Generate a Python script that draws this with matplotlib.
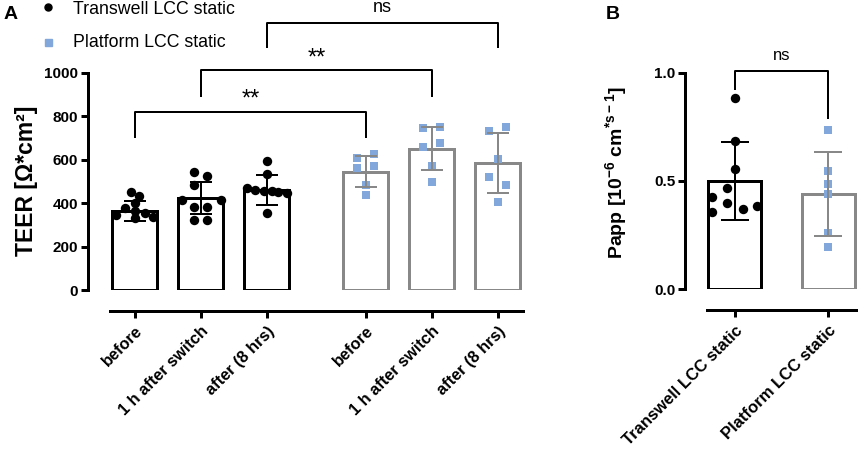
import matplotlib
matplotlib.use("Agg")
import matplotlib.pyplot as plt
from matplotlib.lines import Line2D
import numpy as np

plt.rcParams['font.family'] = ['Liberation Sans', 'DejaVu Sans']
plt.rcParams['mathtext.fontset'] = 'custom'
plt.rcParams['mathtext.rm'] = 'Liberation Sans'
plt.rcParams['mathtext.bf'] = 'Liberation Sans:bold'

# ---- data ----
groups = ['Transwell LCC static', 'Platform LCC static']
timepoints = ['before', '1 h after switch', 'after (8 hrs)']

teer_tw_mean = [364, 424, 461]
teer_tw_sd = [48, 75, 67]
teer_pf_mean = [546, 651, 585]
teer_pf_sd = [70, 99, 140]

teer_tw_points = [
    [452, 435, 400, 380, 365, 355, 345, 335, 330],
    [545, 525, 484, 415, 415, 384, 384, 323, 323],
    [596, 534, 470, 462, 458, 454, 450, 446, 356],
]
teer_pf_points = [
    [625, 610, 571, 561, 484, 438],
    [753, 748, 679, 660, 571, 499],
    [750, 734, 605, 522, 482, 407],
]

papp_mean = [0.50, 0.44]
papp_sd = [0.18, 0.195]
papp_tw_points = [0.884, 0.686, 0.554, 0.466, 0.427, 0.397, 0.357, 0.369, 0.384]
papp_pf_points = [0.735, 0.546, 0.485, 0.438, 0.258, 0.197]

# ---- style / layout ----
blue = '#82A7DB'
grey = '#888888'
px = 72 / 100.0  # points per pixel

jit_tw = [
    [-0.06, 0.06, 0.0, -0.15, 0.0, 0.15, -0.28, 0.28, 0.0],
    [-0.10, 0.10, -0.10, -0.29, 0.31, -0.10, 0.10, -0.10, 0.10],
    [0.0, 0.0, -0.30, -0.18, -0.05, 0.08, 0.17, 0.30, 0.0],
]
jit_pf_list = [
    [0.13, -0.13, 0.13, -0.13, 0.0, 0.0],
    [0.13, -0.13, 0.13, -0.13, 0.0, 0.0],
    [0.13, -0.13, 0.0, -0.13, 0.13, 0.0],
]
jit_b = [0.0, 0.0, 0.0, -0.085, -0.24, -0.085, -0.24, 0.085, 0.235]

fig = plt.figure(figsize=(8.58, 4.49), dpi=100)


def style_axis(ax, xbounds, ybounds):
    for s in ['top', 'right']:
        ax.spines[s].set_visible(False)
    ax.spines['left'].set_linewidth(3 * px)
    ax.spines['bottom'].set_linewidth(3 * px)
    ax.spines['left'].set_bounds(*ybounds)
    ax.spines['bottom'].set_bounds(*xbounds)
    ax.spines['bottom'].set_position(('outward', 21 * px))
    ax.tick_params(axis='both', width=3 * px, length=7 * px)
    ax.tick_params(axis='y', pad=2, labelsize=11)
    ax.tick_params(axis='x', pad=4)


def set_xlabels(ax, labels, size):
    ax.set_xticklabels(labels)
    for lab in ax.get_xticklabels():
        lab.set_rotation(45)
        lab.set_ha('right')
        lab.set_rotation_mode('anchor')
        lab.set_fontweight('bold')
        lab.set_fontsize(size)
    for lab in ax.get_yticklabels():
        lab.set_fontweight('bold')


def bracket(ax, x1, x2, y1, y2, top, text, ty, size):
    ax.plot([x1, x1, x2, x2], [y1, top, top, y2], color='black',
            lw=2 * px, clip_on=False, zorder=5)
    ax.text((x1 + x2) / 2, ty, text, ha='center', va='center',
            fontsize=size, clip_on=False)


# ---------------- panel A ----------------
axA = fig.add_axes([88 / 858, 1 - 290 / 449, (523 - 88) / 858, (290 - 73) / 449])
style_axis(axA, (-0.37, 5.88), (0, 1000))
xa_tw = np.arange(3)
xa_pf = np.arange(3) + 3.5
w = 0.68

axA.bar(xa_tw, teer_tw_mean, width=w, facecolor='white', edgecolor='black',
        linewidth=3 * px, zorder=2)
axA.bar(xa_pf, teer_pf_mean, width=w, facecolor='white', edgecolor=grey,
        linewidth=3 * px, zorder=2)
for i in range(3):
    axA.scatter(xa_tw[i] + np.array(jit_tw[i]), teer_tw_points[i], s=46,
                color='black', marker='o', zorder=3, linewidths=0)
    axA.scatter(xa_pf[i] + np.array(jit_pf_list[i]), teer_pf_points[i], s=40,
                color=blue, marker='s', zorder=3, linewidths=0)
axA.errorbar(xa_tw, teer_tw_mean, yerr=teer_tw_sd, fmt='none', ecolor='black',
             elinewidth=2 * px, capsize=11.5 * px, capthick=2 * px, zorder=4)
axA.errorbar(xa_pf, teer_pf_mean, yerr=teer_pf_sd, fmt='none', ecolor=grey,
             elinewidth=2 * px, capsize=11.5 * px, capthick=2 * px, zorder=4)

axA.set_xlim(-0.71, 5.88)
axA.set_ylim(0, 1000)
axA.set_yticks([0, 200, 400, 600, 800, 1000])
axA.set_xticks(list(xa_tw) + list(xa_pf))
set_xlabels(axA, timepoints + timepoints, 11.8)

bracket(axA, 0, 3.5, 705, 705, 820, '**', 880, 17)
bracket(axA, 1, 4.5, 895, 895, 1014, '**', 1066, 17)
bracket(axA, 2, 5.5, 1121, 1121, 1229, 'ns', 1302, 13)

fig.text(27 / 858, 1 - 181 / 449, 'TEER [Ω*cm²]', rotation=90, ha='center',
         va='center', fontsize=16.5, fontweight='bold')

# ---------------- panel B ----------------
axB = fig.add_axes([685 / 858, 1 - 289.3 / 449, (858 - 685) / 858, (289.3 - 72.7) / 449])
style_axis(axB, (-0.296, 1.314), (0, 1.0))
xb = np.arange(2)
wb = 0.56
axB.bar(xb[0], papp_mean[0], width=wb, facecolor='white', edgecolor='black',
        linewidth=3 * px, zorder=2)
axB.bar(xb[1], papp_mean[1], width=wb, facecolor='white', edgecolor=grey,
        linewidth=3 * px, zorder=2)
axB.scatter(xb[0] + np.array(jit_b), papp_tw_points, s=46, color='black',
            marker='o', zorder=3, linewidths=0)
axB.scatter(np.full(len(papp_pf_points), xb[1]), papp_pf_points, s=40,
            color=blue, marker='s', zorder=3, linewidths=0)
axB.errorbar(xb[0], papp_mean[0], yerr=papp_sd[0], fmt='none', ecolor='black',
             elinewidth=2 * px, capsize=14 * px, capthick=2 * px, zorder=4)
axB.errorbar(xb[1], papp_mean[1], yerr=papp_sd[1], fmt='none', ecolor=grey,
             elinewidth=2 * px, capsize=14 * px, capthick=2 * px, zorder=4)
axB.set_xlim(-0.527, 1.314)
axB.set_ylim(0, 1.0)
axB.set_yticks([0.0, 0.5, 1.0])
axB.set_yticklabels(['0.0', '0.5', '1.0'])
axB.set_xticks(xb)
set_xlabels(axB, groups, 12)
bracket(axB, 0, 1, 0.923, 0.789, 1.009, 'ns', 1.081, 12)

fig.text(617 / 858, 1 - 172 / 449,
         r'Papp [10$^{\mathbf{-6}}$ cm$^{\mathbf{*s-1}}$]', rotation=90,
         ha='center', va='center', fontsize=14, fontweight='bold')

# ---------------- legend & panel letters ----------------
fig.add_artist(Line2D([48 / 858], [1 - 7.3 / 449], marker='o', color='black',
                      markersize=7 * px, linestyle='none'))
fig.add_artist(Line2D([48 / 858], [1 - 41.7 / 449], marker='s', color=blue,
                      markersize=7 * px, linestyle='none'))
fig.text(73 / 858, 1 - 13.5 / 449, groups[0], fontsize=12.8, va='baseline', ha='left')
fig.text(73 / 858, 1 - 47 / 449, groups[1], fontsize=12.8, va='baseline', ha='left')
fig.text(4 / 858, 1 - 19 / 449, 'A', fontsize=14, fontweight='bold', va='baseline')
fig.text(606 / 858, 1 - 19 / 449, 'B', fontsize=14, fontweight='bold', va='baseline')

fig.savefig('out.png', dpi=100)
